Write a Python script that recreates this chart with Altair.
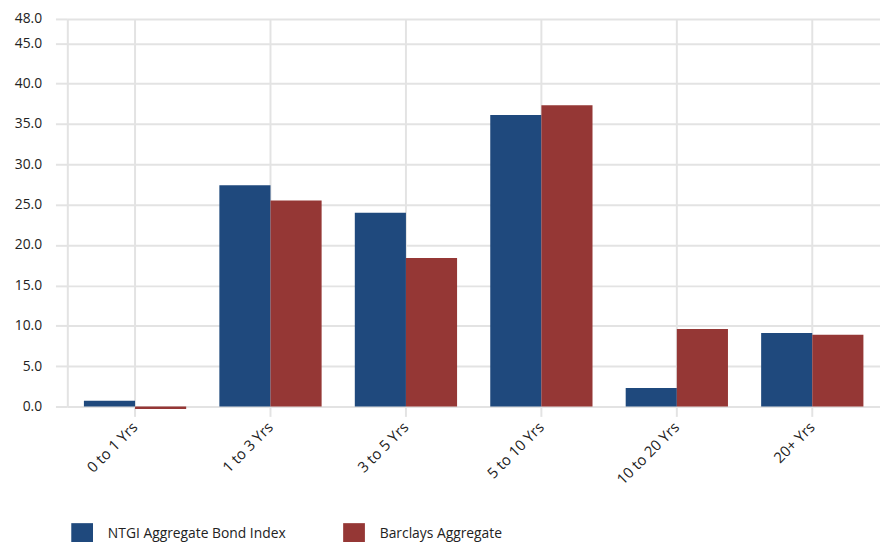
import altair as alt
import pandas as pd

categories = ["0 to 1 Yrs", "1 to 3 Yrs", "3 to 5 Yrs", "5 to 10 Yrs", "10 to 20 Yrs", "20+ Yrs"]
series = ["NTGI Aggregate Bond Index", "Barclays Aggregate"]
ntgi = [0.7, 27.4, 24.0, 36.1, 2.3, 9.1]
barclays = [-0.3, 25.5, 18.4, 37.3, 9.6, 8.9]
y_ticks = [0, 5, 10, 15, 20, 25, 30, 35, 40, 45, 48]
colors = ["#1F497D", "#953735"]

rows = []
for c, a, b in zip(categories, ntgi, barclays):
    rows.append({"cat": c, "series": series[0], "value": a})
    rows.append({"cat": c, "series": series[1], "value": b})
df = pd.DataFrame(rows)

FONT = "Open Sans"

chart = alt.Chart(df).mark_bar(clip=False).encode(
    x=alt.X("cat:N", sort=categories, title=None,
            scale=alt.Scale(paddingInner=0.245, paddingOuter=0.1225),
            axis=alt.Axis(labelAngle=-45, labelAlign="right", labelBaseline="middle",
                          grid=True, gridColor="#e3e3e3", gridWidth=2,
                          domain=False, tickColor="#e3e3e3", tickWidth=2, tickSize=10,
                          labelPadding=8, labelFontSize=15, labelColor="#222222",
                          labelFont=FONT, bandPosition=0.5)),
    xOffset=alt.XOffset("series:N", sort=series,
                        scale=alt.Scale(paddingInner=0, paddingOuter=0)),
    y=alt.Y("value:Q", title=None,
            scale=alt.Scale(domain=[0, 48], nice=False, zero=False),
            axis=alt.Axis(values=y_ticks, format=".1f", grid=True, gridColor="#e3e3e3",
                          gridWidth=2, domain=True, domainColor="#e3e3e3", domainWidth=2,
                          tickColor="#e3e3e3", tickWidth=2, tickSize=12,
                          labelPadding=14, labelFontSize=14, labelColor="#222222",
                          labelFont=FONT)),
    color=alt.Color("series:N", sort=series,
                    scale=alt.Scale(domain=series, range=colors),
                    legend=alt.Legend(title=None, orient="none", legendX=4, legendY=510,
                                      direction="horizontal", symbolType="square",
                                      symbolSize=484, symbolStrokeWidth=0,
                                      labelFontSize=14, labelFont=FONT, labelColor="#222222",
                                      labelOffset=15, columnPadding=58,
                                      labelLimit=400)),
).properties(
    width=822, height=392,
    padding={"left": 60, "top": 8, "right": 0, "bottom": 134},
    autosize=alt.AutoSizeParams(type="none"),
).configure_view(stroke=None)

chart.save("out.html", embed_options={"renderer": "svg", "actions": False})
